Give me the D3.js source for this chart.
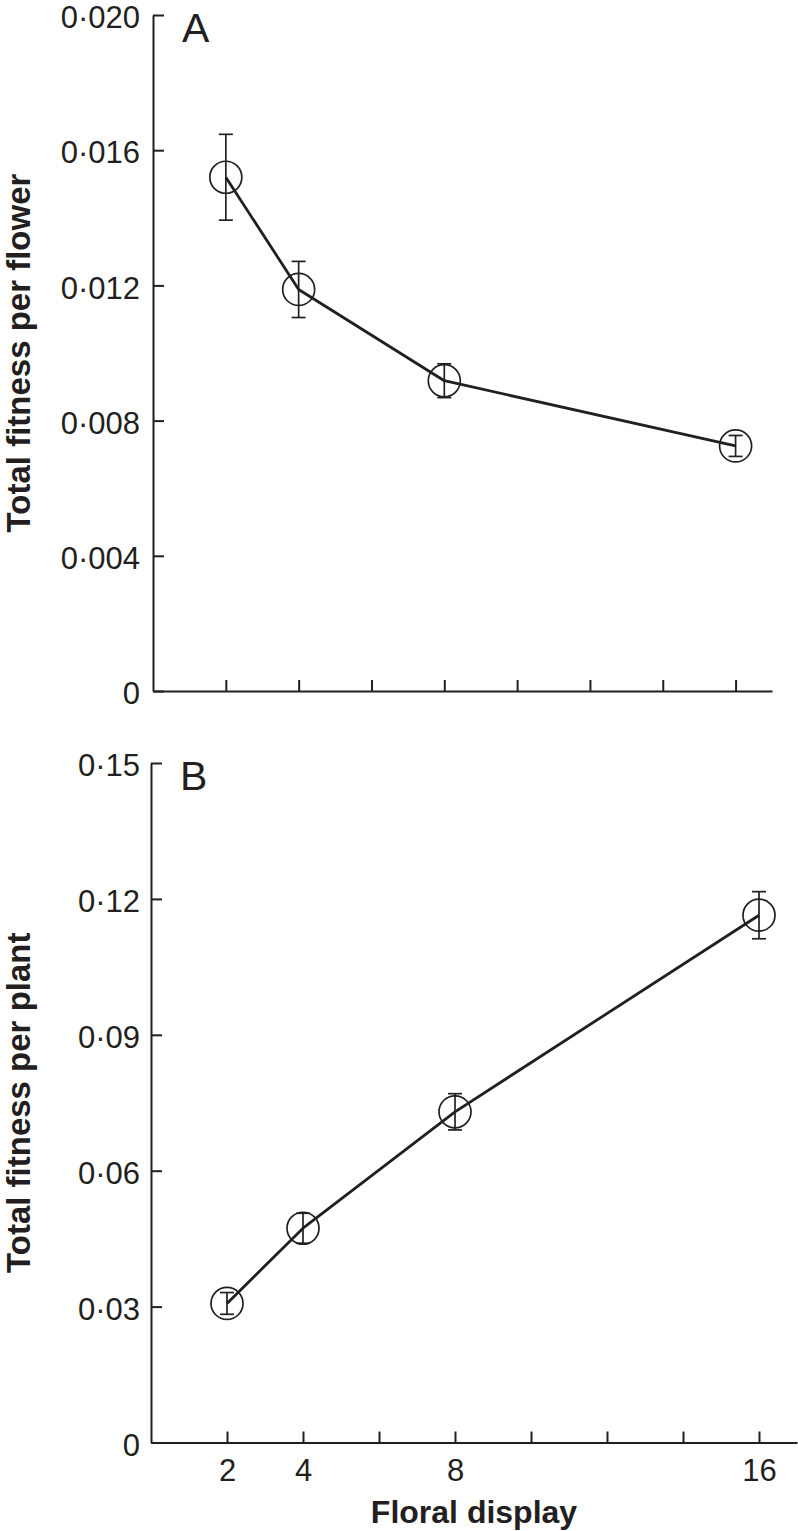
<!DOCTYPE html>
<html>
<head>
<meta charset="utf-8">
<script src="https://cdn.jsdelivr.net/npm/d3@7"></script>
<style>
  html, body { margin: 0; padding: 0; background: #fff; }
  svg { display: block; }
  text { font-family: "Liberation Sans", Arial, Helvetica, sans-serif; fill: #231f20; }
</style>
</head>
<body>
<svg id="chart" width="798" height="1531"></svg>
<script>
// ---- data ----
const displays = [2, 4, 8, 16];
const fitnessPerFlower = [0.01520, 0.01188, 0.00918, 0.00725];
const fitnessPerFlowerErr = [0.00127, 0.00083, 0.00050, 0.00031];
const fitnessPerPlant = [0.0307, 0.0473, 0.0730, 0.1164];
const fitnessPerPlantErr = [0.0024, 0.0033, 0.0040, 0.0052];
const xTicks = [2, 4, 6, 8, 10, 12, 14, 16];
const xTickLabels = [2, 4, 8, 16];
const yTicksA = [0, 0.004, 0.008, 0.012, 0.016, 0.020];
const yTicksB = [0, 0.03, 0.06, 0.09, 0.12, 0.15];
const fmtA = d => d === 0 ? "0" : d3.format(".3f")(d).replace(".", "\u00B7");
const fmtB = d => d === 0 ? "0" : d3.format(".2f")(d).replace(".", "\u00B7");

const ink = "#231f20";
const svg = d3.select("#chart");

function panel(cfg) {
  const g = svg.append("g");
  const x = d3.scaleLinear().domain([0, 17]).range(cfg.xRange);
  const y = d3.scaleLinear().domain(cfg.yDomain).range(cfg.yRange);

  // y axis
  const ya = g.append("g")
    .attr("transform", `translate(${cfg.xRange[0]},0)`)
    .call(d3.axisLeft(y).tickValues(cfg.yTicks).tickFormat(cfg.fmt)
      .tickSizeInner(-11).tickSizeOuter(0).tickPadding(cfg.yPad));
  ya.selectAll("path, line").attr("stroke", ink).attr("stroke-width", 2);
  ya.selectAll("text").attr("font-size", 31).attr("dy", "0.41em")
    .attr("font-family", "Liberation Sans, Arial, sans-serif").attr("fill", ink);

  // x axis
  const xa = g.append("g")
    .attr("transform", `translate(0,${cfg.yRange[0]})`)
    .call(d3.axisBottom(x).tickValues(xTicks)
      .tickFormat(d => cfg.showX && xTickLabels.includes(d) ? d : "")
      .tickSizeInner(-11).tickSizeOuter(0).tickPadding(16));
  xa.selectAll("path, line").attr("stroke", ink).attr("stroke-width", 2);
  xa.selectAll("text").attr("font-size", 31)
    .attr("font-family", "Liberation Sans, Arial, sans-serif").attr("fill", ink);

  const pts = displays.map((d, i) => ({ x: d, y: cfg.values[i], e: cfg.errs[i] }));

  // line
  g.append("path")
    .datum(pts)
    .attr("fill", "none")
    .attr("stroke", ink)
    .attr("stroke-width", 2.8)
    .attr("stroke-linejoin", "round")
    .attr("d", d3.line().x(d => x(d.x)).y(d => y(d.y)));

  // error bars
  const eb = g.append("g").attr("stroke", ink).attr("stroke-width", 1.7).attr("fill", "none");
  eb.selectAll("line.v").data(pts).join("line").attr("class", "v")
    .attr("x1", d => x(d.x)).attr("x2", d => x(d.x))
    .attr("y1", d => y(d.y + d.e)).attr("y2", d => y(d.y - d.e));
  eb.selectAll("line.t").data(pts).join("line").attr("class", "t")
    .attr("x1", d => x(d.x) - 7).attr("x2", d => x(d.x) + 7)
    .attr("y1", d => y(d.y + d.e)).attr("y2", d => y(d.y + d.e));
  eb.selectAll("line.b").data(pts).join("line").attr("class", "b")
    .attr("x1", d => x(d.x) - 7).attr("x2", d => x(d.x) + 7)
    .attr("y1", d => y(d.y - d.e)).attr("y2", d => y(d.y - d.e));

  // circles
  g.selectAll("circle").data(pts).join("circle")
    .attr("cx", d => x(d.x)).attr("cy", d => y(d.y)).attr("r", 16)
    .attr("fill", "none").attr("stroke", ink).attr("stroke-width", 1.7);

  // panel letter
  g.append("text").attr("x", cfg.xRange[0] + 29).attr("y", cfg.yRange[1] + 27)
    .attr("font-size", 41).text(cfg.letter);

  // y title
  const cy = (cfg.yRange[0] + cfg.yRange[1]) / 2;
  g.append("text")
    .attr("transform", `translate(29.5,${cy}) rotate(-90)`)
    .attr("text-anchor", "middle")
    .attr("font-size", 33).attr("font-weight", "bold")
    .text(cfg.title);

  return { x, y };
}

panel({
  xRange: [153, 772], yRange: [691, 15], yDomain: [0, 0.020],
  yTicks: yTicksA, fmt: fmtA, yPad: 13, showX: false,
  values: fitnessPerFlower, errs: fitnessPerFlowerErr,
  letter: "A", title: "Total fitness per flower"
});

panel({
  xRange: [151, 797], yRange: [1442.5, 763], yDomain: [0, 0.15],
  yTicks: yTicksB, fmt: fmtB, yPad: 11, showX: true,
  values: fitnessPerPlant, errs: fitnessPerPlantErr,
  letter: "B", title: "Total fitness per plant"
});

svg.append("text")
  .attr("x", 474).attr("y", 1523)
  .attr("text-anchor", "middle")
  .attr("font-size", 32).attr("font-weight", "bold")
  .text("Floral display");
</script>
</body>
</html>
